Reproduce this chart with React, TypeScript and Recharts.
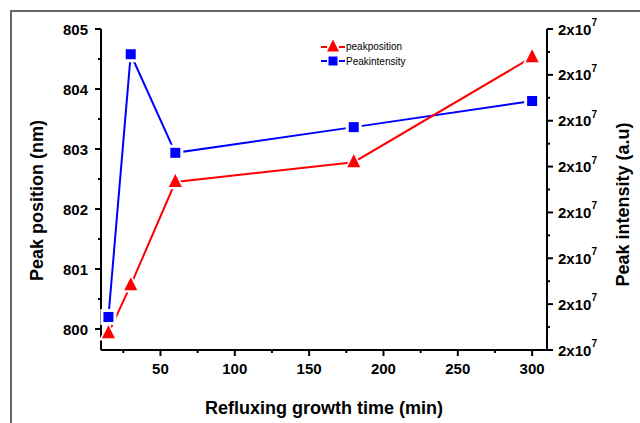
import React from "react";
import { Label, Legend, Line, LineChart, XAxis, YAxis } from "recharts";

// refluxing growth time (min)
const TIME = [15, 30, 60, 180, 300];
// peak position (nm)
const PEAK_POSITION = [799.93, 800.73, 802.45, 802.78, 804.53];
// peak intensity (a.u)
const PEAK_INTENSITY = [16720000, 22450000, 20300000, 20860000, 21430000];

const X_TICKS = [25, 50, 75, 100, 125, 150, 175, 200, 225, 250, 275, 300];
const X_MAJOR = [50, 100, 150, 200, 250, 300];
const LEFT_TICKS = [800, 800.5, 801, 801.5, 802, 802.5, 803, 803.5, 804, 804.5, 805];
const RIGHT_TICKS = [
  16000000, 16500000, 17000000, 17500000, 18000000, 18500000, 19000000, 19500000,
  20000000, 20500000, 21000000, 21500000, 22000000, 22500000, 23000000,
];

const RED = "#ff0000";
const BLUE = "#0000ff";
const FONT = "'Liberation Sans', Arial, sans-serif";

const data = TIME.map((t, i) => ({ time: t, position: PEAK_POSITION[i], intensity: PEAK_INTENSITY[i] }));

const LeftTick = ({ x, y, payload }: any) => {
  const major = Number.isInteger(payload.value);
  return (
    <g>
      <line x1={x} x2={x - (major ? 6 : 3)} y1={y} y2={y} stroke="#000" strokeWidth={2} />
      {major && (
        <text x={x - 13} y={y} textAnchor="end" dominantBaseline="central" fontFamily={FONT} fontWeight="bold" fontSize={15} fill="#000">
          {payload.value}
        </text>
      )}
    </g>
  );
};

const RightTick = ({ x, y, payload }: any) => {
  const major = (payload.value / 1000000) % 1 === 0;
  return (
    <g>
      <line x1={x} x2={x + (major ? 6 : 3)} y1={y} y2={y} stroke="#000" strokeWidth={2} />
      {major && (
        <text x={x + 11} y={y} dominantBaseline="central" fontFamily={FONT} fontWeight="bold" fontSize={15} fill="#000">
          {(payload.value / 1e7).toFixed(0)}x10
          <tspan dy={-7} fontSize={10}>7</tspan>
        </text>
      )}
    </g>
  );
};

const BottomTick = ({ x, y, payload }: any) => {
  const major = X_MAJOR.includes(payload.value);
  return (
    <g>
      <line x1={x} x2={x} y1={y} y2={y + (major ? 6 : 3)} stroke="#000" strokeWidth={2} />
      {major && (
        <text x={x} y={y + 24} textAnchor="middle" fontFamily={FONT} fontWeight="bold" fontSize={15} fill="#000">
          {payload.value}
        </text>
      )}
    </g>
  );
};

const triangle = (cx: number, cy: number, s: number) =>
  `${cx},${cy - s * 0.62} ${cx - s / 2},${cy + s * 0.38} ${cx + s / 2},${cy + s * 0.38}`;

const TriangleDot = (props: any) => {
  const { cx, cy, index } = props;
  return (
    <g key={`tri-${index}`}>
      <polygon points={triangle(cx, cy, 19)} fill="#fff" />
      <polygon points={triangle(cx, cy, 13)} fill={RED} />
    </g>
  );
};

const SquareDot = (props: any) => {
  const { cx, cy, index } = props;
  return (
    <g key={`sq-${index}`}>
      <rect x={cx - 8} y={cy - 8} width={16} height={16} fill="#fff" />
      <rect x={cx - 5} y={cy - 5} width={10} height={10} fill={BLUE} />
    </g>
  );
};

const LegendBox = () => (
  <div style={{ fontFamily: FONT, fontSize: 10, lineHeight: "15px", color: "#000" }}>
    <div style={{ display: "flex", alignItems: "center" }}>
      <svg width={26} height={15}>
        <line x1={1} x2={7} y1={8} y2={8} stroke={RED} strokeWidth={2} />
        <line x1={19} x2={25} y1={8} y2={8} stroke={RED} strokeWidth={2} />
        <polygon points={triangle(13, 8, 12)} fill={RED} />
      </svg>
      <span>peakposition</span>
    </div>
    <div style={{ display: "flex", alignItems: "center" }}>
      <svg width={26} height={15}>
        <line x1={1} x2={7} y1={7} y2={7} stroke={BLUE} strokeWidth={2} />
        <line x1={19} x2={25} y1={7} y2={7} stroke={BLUE} strokeWidth={2} />
        <rect x={8.5} y={2.5} width={9} height={9} fill={BLUE} />
      </svg>
      <span>Peakintensity</span>
    </div>
  </div>
);

export default function App() {
  return (
    <div style={{ position: "absolute", left: 0, top: 0, width: 640, height: 423, background: "#fff" }}>
      <div
        style={{
          position: "absolute",
          left: 10,
          top: 10,
          width: 630,
          height: 413,
          borderTop: "2px solid #666",
          borderLeft: "2px solid #666",
          boxSizing: "border-box",
        }}
      />
      <LineChart width={640} height={423} data={data} margin={{ top: 29, right: 10, bottom: 23, left: 10 }}>
        <XAxis
          dataKey="time"
          type="number"
          domain={[10, 310]}
          ticks={X_TICKS}
          interval={0}
          height={50}
          tickLine={false}
          tickSize={0}
          tickMargin={0}
          tick={<BottomTick />}
          axisLine={{ stroke: "#000", strokeWidth: 2 }}
        >
          <Label
            content={({ viewBox }: any) => (
              <text
                x={viewBox.x + viewBox.width / 2}
                y={viewBox.y + 64}
                textAnchor="middle"
                fontFamily={FONT}
                fontWeight="bold"
                fontSize={18}
                fill="#000"
              >
                Refluxing growth time (min)
              </text>
            )}
          />
        </XAxis>
        <YAxis
          yAxisId="left"
          type="number"
          domain={[799.65, 805]}
          ticks={LEFT_TICKS}
          interval={0}
          width={91}
          tickLine={false}
          tickSize={0}
          tickMargin={0}
          tick={<LeftTick />}
          axisLine={{ stroke: "#000", strokeWidth: 2 }}
        >
          <Label
            content={({ viewBox }: any) => {
              const cx = viewBox.x + 27;
              const cy = viewBox.y + viewBox.height / 2 + 11;
              return (
                <text
                  x={cx}
                  y={cy}
                  transform={`rotate(-90, ${cx}, ${cy})`}
                  textAnchor="middle"
                  dominantBaseline="central"
                  fontFamily={FONT}
                  fontWeight="bold"
                  fontSize={18}
                  fill="#000"
                >
                  Peak position (nm)
                </text>
              );
            }}
          />
        </YAxis>
        <YAxis
          yAxisId="right"
          orientation="right"
          type="number"
          domain={[16000000, 23000000]}
          ticks={RIGHT_TICKS}
          interval={0}
          width={83}
          tickLine={false}
          tickSize={0}
          tickMargin={0}
          tick={<RightTick />}
          axisLine={{ stroke: "#000", strokeWidth: 2 }}
        >
          <Label
            content={({ viewBox }: any) => {
              const cx = viewBox.x + 76;
              const cy = viewBox.y + viewBox.height / 2 + 15;
              return (
                <text
                  x={cx}
                  y={cy}
                  transform={`rotate(-90, ${cx}, ${cy})`}
                  textAnchor="middle"
                  dominantBaseline="central"
                  fontFamily={FONT}
                  fontWeight="bold"
                  fontSize={18}
                  fill="#000"
                >
                  Peak intensity (a.u)
                </text>
              );
            }}
          />
        </YAxis>
        <Legend
          layout="vertical"
          align="center"
          verticalAlign="middle"
          content={<LegendBox />}
          wrapperStyle={{ position: "absolute", left: 320, top: 39, width: 120, height: 30 }}
        />
        <Line
          yAxisId="right"
          dataKey="intensity"
          stroke={BLUE}
          strokeWidth={2}
          dot={SquareDot}
          activeDot={false}
          isAnimationActive={false}
        />
        <Line
          yAxisId="left"
          dataKey="position"
          stroke={RED}
          strokeWidth={2}
          dot={TriangleDot}
          activeDot={false}
          isAnimationActive={false}
        />
      </LineChart>
    </div>
  );
}
